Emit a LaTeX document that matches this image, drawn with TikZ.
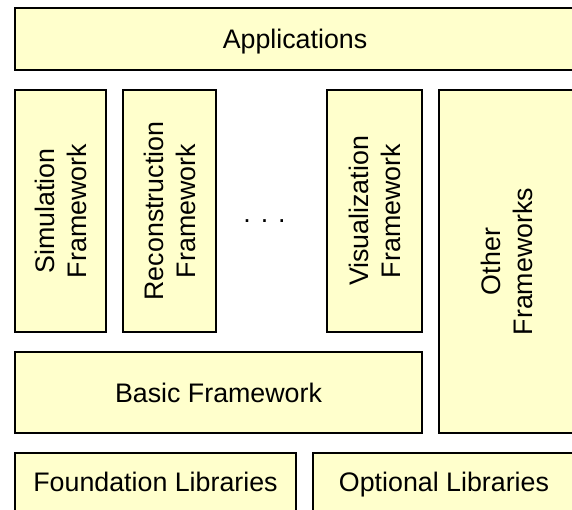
\documentclass[tikz,border=0pt]{standalone}
\usepackage{fontspec}
\setmainfont{Liberation Sans}
\definecolor{boxfill}{HTML}{FFFFCC}
\tikzset{
  layer/.style={draw=black, fill=boxfill, line width=1.6pt, inner sep=0pt,
    align=center, font=\fontsize{26.8}{32}\selectfont},
  flat/.style={layer, text depth=0pt},
  upright/.style={layer, rotate=90}
}
\begin{document}
\begin{tikzpicture}[x=1pt, y=-1pt]
\useasboundingbox (0,0) rectangle (572,509);
\clip (0,0) rectangle (572,509);

\node[flat, minimum width=560pt, minimum height=62pt] (apps) at (295,39) {Applications};

\node[upright, minimum width=242pt, minimum height=91pt] (sim) at (60.5,211) {Simulation\\Framework};
\node[upright, minimum width=242pt, minimum height=93pt] (reco) at (169.5,211) {Reconstruction\\Framework};
\node[font=\fontsize{26.8}{32}\selectfont, inner sep=0pt] (dots) at (264.5,221.5) {. . .};
\node[upright, minimum width=242pt, minimum height=95pt] (vis) at (374.5,211) {Visualization\\Framework};
\node[upright, minimum width=343pt, minimum height=136pt] (other) at (507,261.5) {Other\\Frameworks};

\node[flat, minimum width=407pt, minimum height=81pt] (basic) at (218.5,392.5) {Basic Framework};

\node[flat, minimum width=281pt, minimum height=58pt] (found) at (155.5,482) {Foundation Libraries};
\node[flat, minimum width=262pt, minimum height=58pt] (opt) at (444,482) {Optional Libraries};
\end{tikzpicture}
\end{document}
